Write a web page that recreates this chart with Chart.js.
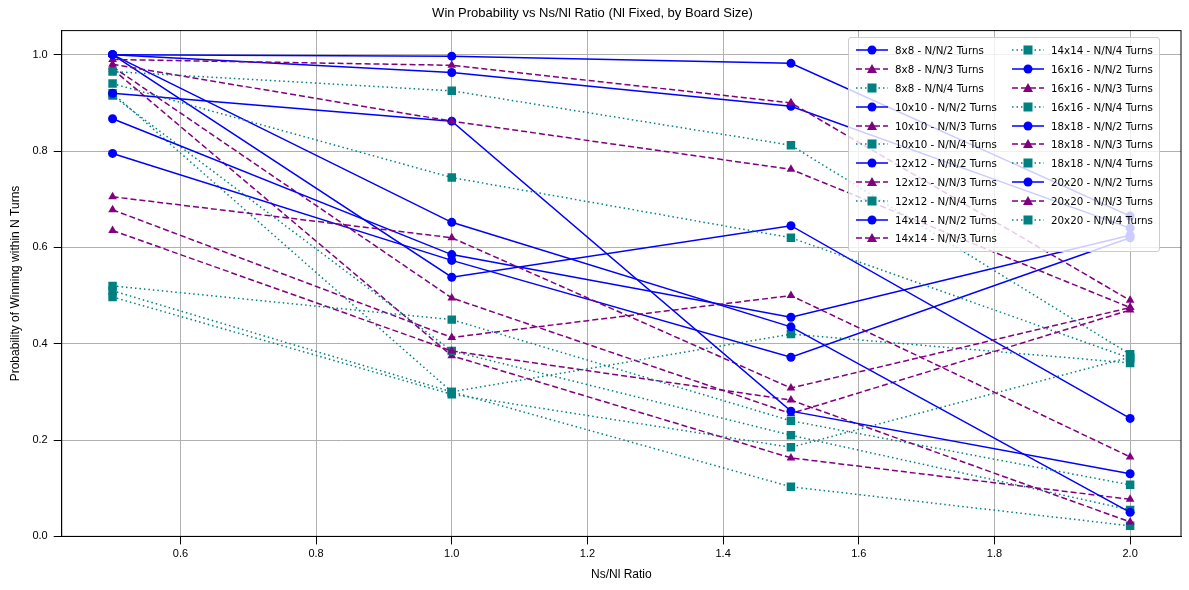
<!DOCTYPE html>
<html>
<head>
<meta charset="utf-8">
<script src="https://cdn.jsdelivr.net/npm/chart.js@4.4.0/dist/chart.umd.min.js"></script>
<style>
  body { margin: 0; background: #fff; font-family: "DejaVu Sans", sans-serif; }
  #wrap { position: relative; width: 1189px; height: 590px; }
  #legend { position: absolute; left: 848px; top: 37px; background: rgba(255,255,255,0.8); border: 1px solid #ccc; border-radius: 3px;
    padding: 3px 6px; font-size: 10.3px; display: grid; grid-template-columns: auto auto; grid-auto-flow: column; grid-template-rows: repeat(11, 18.8px); column-gap: 14px; }
  .item { display: flex; align-items: center; white-space: nowrap; }
  .item svg { margin-right: 6px; }
</style>
</head>
<body>
<div id="wrap"><canvas id="c" width="1189" height="590"></canvas><div id="legend"></div></div>
<script>
const ratios = [0.5, 1.0, 1.5, 2.0];
const boards = ['8x8', '10x10', '12x12', '14x14', '16x16', '18x18', '20x20'];

// N/N/2 turns
const half = [
  [1.0, 0.997, 0.982, 0.665],
  [1.0, 0.963, 0.893, 0.64],
  [0.92, 0.862, 0.26, 0.13],
  [1.0, 0.652, 0.435, 0.05],
  [0.867, 0.585, 0.455, 0.625],
  [1.0, 0.538, 0.645, 0.245],
  [0.795, 0.573, 0.372, 0.62]
];
// N/N/3 turns
const third = [
  [0.99, 0.978, 0.9, 0.49],
  [0.98, 0.862, 0.762, 0.475],
  [0.705, 0.62, 0.308, 0.475],
  [0.678, 0.413, 0.5, 0.165],
  [0.975, 0.495, 0.255, 0.47],
  [0.635, 0.385, 0.283, 0.03],
  [0.97, 0.375, 0.163, 0.077]
];
// N/N/4 turns
const quarter = [
  [0.965, 0.925, 0.812, 0.378],
  [0.94, 0.745, 0.62, 0.37],
  [0.52, 0.45, 0.24, 0.107],
  [0.51, 0.3, 0.42, 0.36],
  [0.497, 0.295, 0.185, 0.372],
  [0.915, 0.385, 0.21, 0.055],
  [0.92, 0.3, 0.103, 0.022]
];

const styles = [
  { suffix: 'N/N/2 Turns', color: '#0000ff', dash: [], marker: 'circle', data: half },
  { suffix: 'N/N/3 Turns', color: '#800080', dash: [6, 3], marker: 'triangle', data: third },
  { suffix: 'N/N/4 Turns', color: '#008080', dash: [1.5, 3], marker: 'rect', data: quarter }
];

const datasets = [];
boards.forEach((b, i) => {
  styles.forEach(s => {
    datasets.push({
      label: `${b} - ${s.suffix}`,
      data: ratios.map((x, j) => ({ x, y: s.data[i][j] })),
      borderColor: s.color, backgroundColor: s.color,
      borderDash: s.dash, borderWidth: 1.5,
      pointStyle: s.marker, pointRadius: s.marker === 'circle' ? 4.5 : s.marker === 'triangle' ? 5 : 6,
      pointBorderWidth: 0, tension: 0
    });
  });
});

new Chart(document.getElementById('c'), {
  type: 'line',
  data: { datasets },
  options: {
    responsive: false, animation: false,
    layout: { padding: { left: 4, right: 8, top: 2, bottom: 4 } },
    plugins: {
      legend: { display: false },
      title: { display: true, text: 'Win Probability vs Ns/Nl Ratio (Nl Fixed, by Board Size)', color: '#000', font: { size: 13, weight: 'normal' }, padding: { top: 4, bottom: 9 } }
    },
    scales: {
      x: {
        type: 'linear', min: 0.425, max: 2.075,
        afterBuildTicks: a => { a.ticks = [0.6, 0.8, 1.0, 1.2, 1.4, 1.6, 1.8, 2.0].map(v => ({ value: v })); },
        ticks: { color: '#000', font: { size: 11 }, callback: v => v.toFixed(1) },
        grid: { color: '#b0b0b0', tickColor: '#000' }, border: { color: '#000' },
        title: { display: true, text: 'Ns/Nl Ratio', color: '#000', font: { size: 12 } }
      },
      y: {
        min: 0, max: 1.05,
        afterBuildTicks: a => { a.ticks = [0, 0.2, 0.4, 0.6, 0.8, 1.0].map(v => ({ value: v })); },
        ticks: { color: '#000', font: { size: 11 }, callback: v => v.toFixed(1), padding: 6 },
        grid: { color: '#b0b0b0', tickColor: '#000' }, border: { color: '#000' },
        title: { display: true, text: 'Probability of Winning within N Turns', color: '#000', font: { size: 12 } }
      }
    }
  },
  plugins: [{
    id: 'frame',
    afterDraw(chart) {
      const { ctx, chartArea: a } = chart;
      ctx.save(); ctx.strokeStyle = '#000'; ctx.lineWidth = 1;
      ctx.strokeRect(a.left, a.top, a.right - a.left, a.bottom - a.top);
      ctx.restore();
    }
  }]
});

// two-column legend like matplotlib
const leg = document.getElementById('legend');
datasets.forEach(d => {
  const m = d.pointStyle === 'circle' ? `<circle cx="17" cy="6" r="4.5" fill="${d.borderColor}"/>`
    : d.pointStyle === 'triangle' ? `<polygon points="17,1 22,10 12,10" fill="${d.borderColor}"/>`
    : `<rect x="12.5" y="1.5" width="9" height="9" fill="${d.borderColor}"/>`;
  leg.insertAdjacentHTML('beforeend', `<div class="item"><svg width="34" height="12"><line x1="1" y1="6" x2="33" y2="6" stroke="${d.borderColor}" stroke-width="1.5" stroke-dasharray="${d.borderDash.join(' ')}"/>${m}</svg>${d.label}</div>`);
});
</script>
</body>
</html>
